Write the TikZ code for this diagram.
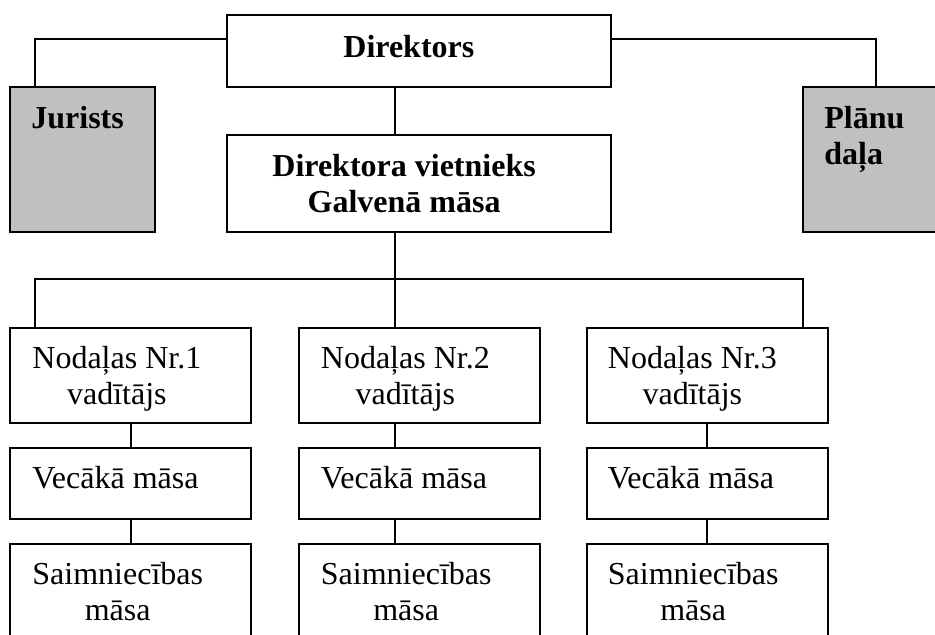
\documentclass[tikz,border=0pt]{standalone}
\usepackage{fontspec}
\setmainfont{Liberation Serif}
\usetikzlibrary{positioning}
\definecolor{sidegray}{RGB}{192,192,192}
\tikzset{
  box/.style={draw, line width=1pt, inner sep=0pt, outer sep=0pt, minimum width=120.5pt},
  headbox/.style={box, minimum width=192pt},
  sidebox/.style={box, fill=sidegray, minimum width=72.5pt, minimum height=72.5pt},
  boxtext/.style={inner sep=0pt, align=center, font=\fontsize{16pt}{18pt}\selectfont},
  headtext/.style={boxtext, font=\fontsize{16pt}{18pt}\selectfont\bfseries},
  link/.style={line width=1pt}
}

\begin{document}
\begin{tikzpicture}[x=0.5pt, y=-0.5pt]
\path[use as bounding box, clip] (0,0) rectangle (935,635);
\node[headbox, minimum height=36pt] (dir) at (419,51) {};
\node[headtext, below right=10pt and 58pt of dir.north west] (dirtxt) {Direktors};
\node[headbox, minimum height=48.5pt] (dep) at (419,183.5) {};
\node[headtext, below right=9.5pt and 22.5pt of dep.north west] (deptxt) {Direktora vietnieks\\Galvenā māsa};
\node[sidebox] (jur) at (82.5,159.5) {};
\node[headtext, align=left, below right=9.5pt and 10.5pt of jur.north west] (jurtxt) {Jurists};
\node[sidebox] (plan) at (875.5,159.5) {};
\node[headtext, align=left, below right=9.5pt and 10.5pt of plan.north west] (plantxt) {Plānu\\daļa};

\node[box, minimum height=47.5pt] (head1) at (130.5,375.5) {};
\node[box, minimum height=35.5pt, below=12.5pt of head1] (senior1) {};
\node[box, minimum height=47.5pt, below=12.5pt of senior1] (house1) {};
\node[boxtext, below right=9pt and 11pt of head1.north west] (head1txt) {Nodaļas Nr.1\\vadītājs};
\node[boxtext, below right=9pt and 11pt of senior1.north west] (senior1txt) {Vecākā māsa};
\node[boxtext, below right=9pt and 11pt of house1.north west] (house1txt) {Saimniecības\\māsa};

\node[box, minimum height=47.5pt] (head2) at (419,375.5) {};
\node[box, minimum height=35.5pt, below=12.5pt of head2] (senior2) {};
\node[box, minimum height=47.5pt, below=12.5pt of senior2] (house2) {};
\node[boxtext, below right=9pt and 11pt of head2.north west] (head2txt) {Nodaļas Nr.2\\vadītājs};
\node[boxtext, below right=9pt and 11pt of senior2.north west] (senior2txt) {Vecākā māsa};
\node[boxtext, below right=9pt and 11pt of house2.north west] (house2txt) {Saimniecības\\māsa};

\node[box, minimum height=47.5pt] (head3) at (707,375.5) {};
\node[box, minimum height=35.5pt, below=12.5pt of head3] (senior3) {};
\node[box, minimum height=47.5pt, below=12.5pt of senior3] (house3) {};
\node[boxtext, below right=9pt and 10.5pt of head3.north west] (head3txt) {Nodaļas Nr.3\\vadītājs};
\node[boxtext, below right=9pt and 10.5pt of senior3.north west] (senior3txt) {Vecākā māsa};
\node[boxtext, below right=9pt and 10.5pt of house3.north west] (house3txt) {Saimniecības\\māsa};

\draw[link] ([yshift=6pt]dir.west) -| ([xshift=12.5pt]jur.north west);
\draw[link] ([yshift=6pt]dir.east) -| (plan.north);
\draw[link] ([xshift=-12pt]dir.south) -- ([xshift=-12pt]dep.north);
\draw[link] ([xshift=-12pt]dep.south) -- ([xshift=-12pt]head2.north);
\coordinate (bus) at (395,279);
\draw[link] ([xshift=12.5pt]head1.north west) |- (bus) -| ([xshift=48pt]head3.north);
\draw[link] (head1) -- (senior1) -- (house1);
\draw[link] ([xshift=-12pt]head2.south) -- ([xshift=-12pt]senior2.north);
\draw[link] ([xshift=-12pt]senior2.south) -- ([xshift=-12pt]house2.north);
\draw[link] (head3) -- (senior3) -- (house3);
\end{tikzpicture}
\end{document}
